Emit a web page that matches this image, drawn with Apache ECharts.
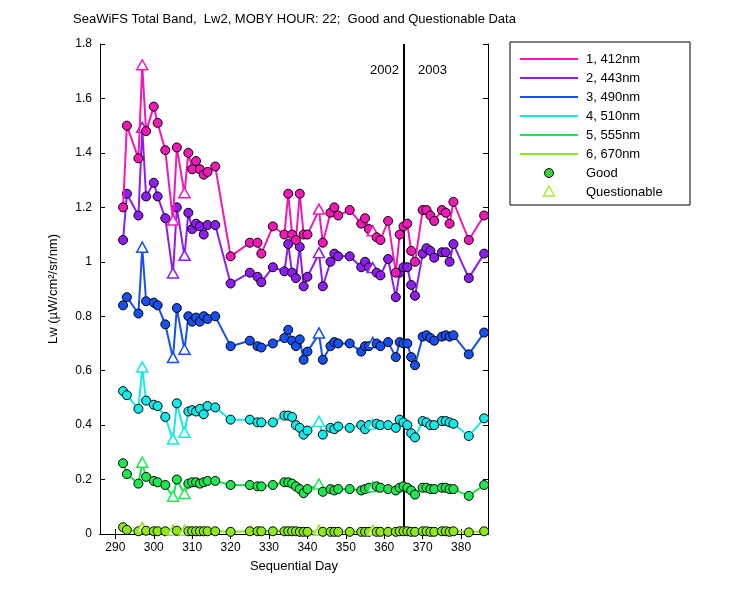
<!DOCTYPE html>
<html>
<head>
<meta charset="utf-8">
<script src="https://cdn.jsdelivr.net/npm/echarts@6/dist/echarts.min.js"></script>
<style>body{margin:0;background:#fff}#box{width:750px;height:600px}</style>
</head>
<body>
<div id="box"></div>
<script>
var days = [292,293,296,297,298,300,301,303,305,306,308,309,310,311,312,313,314,316,320,325,327,328,331,334,335,336,337,338,339,340,343,344,346,347,348,351,354,355,356,357,358,359,361,363,364,365,366,367,368,370,371,372,373,375,376,377,378,382,386];
var questionable = [297,305,308,343,357];
var bandNames = ['1, 412nm','2, 443nm','3, 490nm','4, 510nm','5, 555nm','6, 670nm'];
var bandColors = ['#f218b8','#8f1cf0','#1650f0','#12eaea','#1ee850','#8ee81a'];

var lw412 = [1.2,1.5,1.38,1.72,1.48,1.57,1.51,1.41,1.15,1.42,1.25,1.40,1.34,1.37,1.34,1.32,1.33,1.35,1.02,1.07,1.07,1.03,1.13,1.10,1.25,1.10,1.08,1.25,1.10,1.10,1.19,1.07,1.18,1.20,1.17,1.19,1.14,1.16,1.12,1.11,1.09,1.08,1.15,0.96,1.10,1.13,1.14,1.04,1.00,1.19,1.19,1.17,1.15,1.19,1.18,1.14,1.22,1.08,1.17];
var lw443 = [1.08,1.25,1.17,1.49,1.24,1.29,1.24,1.16,0.955,1.20,1.02,1.18,1.12,1.14,1.13,1.10,1.135,1.135,0.92,0.96,0.945,0.925,0.98,0.965,1.065,0.96,0.94,1.055,0.91,0.945,1.03,0.91,1.0,1.03,1.02,1.02,0.98,1.0,0.98,0.975,0.96,0.95,1.01,0.87,0.96,0.98,0.98,0.915,0.875,1.03,1.05,1.04,1.015,1.035,1.035,1.0,1.065,0.94,1.03];
var lw490 = [0.84,0.87,0.81,1.05,0.855,0.85,0.84,0.77,0.645,0.83,0.675,0.80,0.78,0.795,0.78,0.80,0.79,0.80,0.69,0.71,0.69,0.685,0.70,0.72,0.75,0.71,0.69,0.715,0.64,0.67,0.735,0.64,0.69,0.705,0.70,0.70,0.67,0.69,0.69,0.70,0.70,0.69,0.705,0.65,0.705,0.70,0.70,0.65,0.62,0.725,0.73,0.72,0.71,0.725,0.73,0.725,0.73,0.66,0.74];
var lw510 = [0.525,0.51,0.46,0.61,0.49,0.475,0.47,0.43,0.345,0.48,0.37,0.45,0.455,0.45,0.46,0.44,0.47,0.465,0.42,0.42,0.41,0.41,0.41,0.435,0.435,0.43,0.40,0.39,0.365,0.38,0.41,0.365,0.39,0.385,0.395,0.39,0.40,0.385,0.40,0.40,0.405,0.40,0.40,0.39,0.42,0.41,0.40,0.37,0.355,0.415,0.41,0.40,0.40,0.415,0.415,0.41,0.405,0.36,0.425];
var lw555 = [0.26,0.22,0.185,0.26,0.21,0.195,0.19,0.18,0.135,0.20,0.145,0.185,0.19,0.19,0.185,0.19,0.195,0.195,0.18,0.18,0.175,0.175,0.18,0.19,0.19,0.185,0.175,0.165,0.15,0.165,0.18,0.155,0.165,0.16,0.165,0.165,0.16,0.165,0.17,0.17,0.175,0.17,0.165,0.16,0.17,0.175,0.17,0.16,0.145,0.17,0.17,0.165,0.165,0.17,0.17,0.165,0.165,0.14,0.18];
var lw670 = [0.025,0.015,0.01,0.02,0.012,0.01,0.01,0.01,0.01,0.012,0.01,0.01,0.01,0.01,0.01,0.01,0.01,0.01,0.008,0.01,0.01,0.01,0.01,0.01,0.01,0.01,0.01,0.008,0.008,0.008,0.01,0.008,0.008,0.008,0.008,0.008,0.008,0.008,0.008,0.01,0.008,0.008,0.008,0.008,0.01,0.01,0.01,0.008,0.008,0.01,0.01,0.008,0.008,0.01,0.01,0.008,0.01,0.006,0.01];
var xTicks = [290,300,310,320,330,340,350,360,370,380];
var yearDay = 365;

var bands = [lw412, lw443, lw490, lw510, lw555, lw670];
var tri = 'path://M5,0 L10,10 L0,10 Z';

var series = bands.map(function (vals, b) {
    return {
        name: bandNames[b],
        type: 'line',
        z: 10 - b,
        lineStyle: {color: bandColors[b], width: 2},
        itemStyle: {color: bandColors[b], borderColor: '#000', borderWidth: 1},
        symbolSize: 9,
        data: days.map(function (d, i) {
            var q = questionable.indexOf(d) >= 0;
            return q ? {value: [d, vals[i]], symbol: tri, symbolSize: [11, 10], symbolOffset: [0, -1],
                        itemStyle: {color: '#fff', opacity: 1, borderColor: bandColors[b], borderWidth: 1.5}}
                     : {value: [d, vals[i]], symbol: 'circle'};
        }),
        markLine: b === 0 ? {silent: true, symbol: 'none', label: {show: false},
            lineStyle: {color: '#000', width: 2, type: 'solid'}, data: [{xAxis: yearDay}]} : undefined
    };
});

// legend drawn by hand
var legend = [{type: 'rect', shape: {x: 510, y: 42, width: 180, height: 163},
    style: {fill: '#fff', stroke: '#000', lineWidth: 1}}];
bandNames.forEach(function (n, i) {
    var y = 59 + i * 19;
    legend.push({type: 'line', shape: {x1: 520, y1: y, x2: 578, y2: y}, style: {stroke: bandColors[i], lineWidth: 2}});
    legend.push({type: 'text', style: {x: 586, y: y, text: n, fill: '#000', font: '13px Arial', verticalAlign: 'middle'}});
});
legend.push({type: 'circle', shape: {cx: 549, cy: 173, r: 4.5}, style: {fill: '#38d838', stroke: '#000', lineWidth: 1}});
legend.push({type: 'text', style: {x: 586, y: 173, text: 'Good', fill: '#000', font: '13px Arial', verticalAlign: 'middle'}});
legend.push({type: 'polygon', shape: {points: [[549, 186], [554.5, 196], [543.5, 196]]}, style: {fill: 'none', stroke: '#a0f030', lineWidth: 1.5}});
legend.push({type: 'text', style: {x: 586, y: 192, text: 'Questionable', fill: '#000', font: '13px Arial', verticalAlign: 'middle'}});
legend.push({type: 'text', style: {x: 399, y: 70, text: '2002', fill: '#000', font: '13px Arial', align: 'right', verticalAlign: 'middle'}});
legend.push({type: 'text', style: {x: 418, y: 70, text: '2003', fill: '#000', font: '13px Arial', verticalAlign: 'middle'}});

var xBase = {
    type: 'value', min: 286, max: 387,
    axisLine: {lineStyle: {color: '#000'}},
    axisTick: {inside: true, length: 5, lineStyle: {color: '#000'}, customValues: xTicks},
    splitLine: {show: false}
};

var chart = echarts.init(document.getElementById('box'));
chart.setOption({
    animation: false,
    backgroundColor: '#fff',
    textStyle: {fontFamily: 'Arial'},
    title: {text: 'SeaWiFS Total Band,  Lw2, MOBY HOUR: 22;  Good and Questionable Data', left: 68, top: 8,
        textStyle: {fontSize: 13, fontWeight: 'normal', color: '#000'}},
    grid: {left: 100, right: 262, top: 44, bottom: 66},
    xAxis: [
        Object.assign({}, xBase, {position: 'bottom', name: 'Sequential Day', nameLocation: 'middle', nameGap: 26,
            nameTextStyle: {color: '#000', fontSize: 13},
            axisLabel: {color: '#000', fontSize: 12, customValues: xTicks}}),
        Object.assign({}, xBase, {position: 'top', axisLabel: {show: false}})
    ],
    yAxis: [
        {type: 'value', min: 0, max: 1.8, interval: 0.2, position: 'left',
            name: 'Lw (\u00b5W/cm\u00b2/sr/nm)', nameLocation: 'middle', nameGap: 40,
            nameTextStyle: {color: '#000', fontSize: 13},
            axisLine: {show: true, lineStyle: {color: '#000'}},
            axisTick: {inside: true, length: 5, lineStyle: {color: '#000'}},
            axisLabel: {color: '#000', fontSize: 12}, splitLine: {show: false}},
        {type: 'value', min: 0, max: 1.8, interval: 0.2, position: 'right',
            axisLine: {show: true, lineStyle: {color: '#000'}},
            axisTick: {inside: true, length: 5, lineStyle: {color: '#000'}},
            axisLabel: {show: false}, splitLine: {show: false}}
    ],
    series: series,
    graphic: legend
});
</script>
</body>
</html>
